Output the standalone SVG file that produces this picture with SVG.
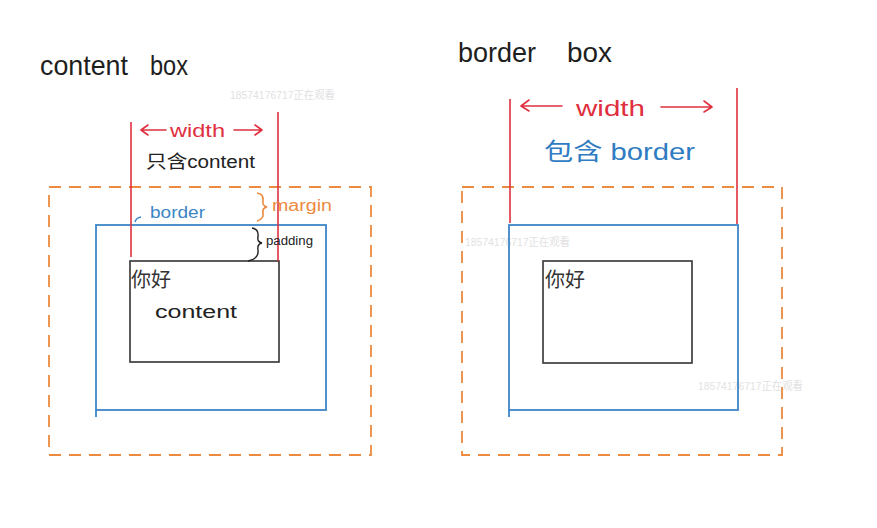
<svg xmlns="http://www.w3.org/2000/svg" width="877" height="528" viewBox="0 0 877 528">
<style>
.t{font-family:"Liberation Sans","Noto Sans CJK SC",sans-serif}
.title{font-size:28px;fill:#1e1e1e}
.red{stroke:#e0303f;stroke-width:1.6;fill:none}
.redt{fill:#e0303f}
.margin{stroke:#ec8a3f;stroke-width:1.8;fill:none;stroke-dasharray:12 8}
.border{stroke:#3d86c6;stroke-width:1.8;fill:none}
.content{stroke:#333;stroke-width:1.6;fill:none}
.wm{font-size:11.5px;fill:#e2e2e2}
.arr{stroke:#e0303f;stroke-width:1.6;fill:none;stroke-linecap:round;stroke-linejoin:round}
</style>
<rect width="877" height="528" fill="#ffffff"/>

<g id="watermarks" class="t">
<text class="wm" x="230" y="99" textLength="105" lengthAdjust="spacingAndGlyphs">18574176717正在观看</text>
<text class="wm" x="465" y="246" textLength="105" lengthAdjust="spacingAndGlyphs">18574176717正在观看</text>
<text class="wm" x="698" y="390" textLength="105" lengthAdjust="spacingAndGlyphs">18574176717正在观看</text>
</g>

<g id="content-box">
<text class="t title" x="40" y="75" textLength="88" lengthAdjust="spacingAndGlyphs">content</text>
<text class="t title" x="150" y="75" textLength="38" lengthAdjust="spacingAndGlyphs">box</text>
<g id="cb-margin"><rect class="margin" x="49" y="187" width="322" height="268"/></g>
<g id="cb-border"><rect class="border" x="96" y="225" width="230" height="185"/><line class="border" x1="96" y1="410" x2="96" y2="417"/></g>
<g id="cb-content"><rect class="content" x="130" y="261" width="149" height="101"/>
<text class="t" x="131" y="287" font-size="20" fill="#333">你好</text>
<text class="t" x="155" y="318" font-size="18" fill="#222" textLength="82" lengthAdjust="spacingAndGlyphs">content</text></g>
<g id="cb-width">
<line class="red" x1="131" y1="122" x2="131" y2="257"/>
<line class="red" x1="278" y1="112" x2="278" y2="261"/>
<path class="arr" d="M166 130 H141 M148 125 L141 130 L148 135"/>
<path class="arr" d="M234 130 H262 M255 125 L262 130 L255 135"/>
<text class="t redt" x="170" y="137" font-size="19" textLength="55" lengthAdjust="spacingAndGlyphs">width</text>
<text class="t" x="146" y="168" font-size="18" fill="#222" textLength="109" lengthAdjust="spacingAndGlyphs">只含content</text>
</g>
<g id="cb-labels">
<path d="M257 193 Q264 194 263 201 Q262 206 267 207 Q262 208 263 213 Q264 219 257 221" stroke="#ec8a3f" stroke-width="1.6" fill="none"/>
<text class="t" x="272" y="211" font-size="16" fill="#ec8a3f" textLength="60" lengthAdjust="spacingAndGlyphs">margin</text>
<path d="M135 222 Q136 218 141 217" stroke="#3d86c6" stroke-width="1.4" fill="none"/>
<text class="t" x="150" y="218" font-size="16" fill="#3d86c6" textLength="55" lengthAdjust="spacingAndGlyphs">border</text>
<path d="M252 228 Q259 229 258 237 Q257 242 262 243 Q257 244 258 250 Q259 259 248 261" stroke="#222" stroke-width="1.4" fill="none"/>
<text class="t" x="266" y="245" font-size="12" fill="#222" textLength="47" lengthAdjust="spacingAndGlyphs">padding</text>
</g>
</g>

<g id="border-box">
<text class="t title" x="458" y="62" textLength="78" lengthAdjust="spacingAndGlyphs">border</text>
<text class="t title" x="567" y="62" textLength="45" lengthAdjust="spacingAndGlyphs">box</text>
<g id="bb-margin"><rect class="margin" x="462" y="187" width="320" height="268"/></g>
<g id="bb-border"><rect class="border" x="509" y="225" width="229" height="185"/><line class="border" x1="509" y1="410" x2="509" y2="417"/></g>
<g id="bb-content"><rect class="content" x="543" y="261" width="149" height="102"/>
<text class="t" x="545" y="287" font-size="20" fill="#333">你好</text></g>
<g id="bb-width">
<line class="red" x1="510" y1="99" x2="510" y2="223"/>
<line class="red" x1="737" y1="88" x2="737" y2="224"/>
<path class="arr" d="M562 106 H521 M529 100 L521 106 L529 111"/>
<path class="arr" d="M661 107 H712 M704 101 L712 107 L704 112"/>
<text class="t redt" x="576" y="116" font-size="22" textLength="69" lengthAdjust="spacingAndGlyphs">width</text>
<text class="t" x="544" y="160" font-size="24" fill="#2f7cc2" textLength="151" lengthAdjust="spacingAndGlyphs">包含 border</text>
</g>
</g>
</svg>
